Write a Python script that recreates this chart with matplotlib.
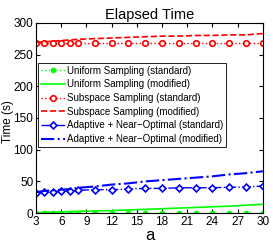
import matplotlib
matplotlib.use('Agg')
import matplotlib.pyplot as plt

a = [3, 4, 5, 6, 7, 8, 10, 12, 14, 16, 18, 20, 22, 24, 26, 28, 30]

uni_std = [1, 1, 1, 1, 1, 1, 1, 1, 1, 1, 1, 1, 1, 1, 1, 1, 1]
uni_mod = [0.5, 1, 1.5, 2, 2.5, 3, 3.5, 4, 5, 6, 7, 8, 9, 10, 11, 12.5, 14]
sub_std = [268, 268, 268, 268, 268, 268, 268, 268, 268, 268, 268, 268, 268, 268, 268, 268, 268]
sub_mod = [269, 270, 271, 272, 273, 274, 275, 276, 277, 278, 279, 279, 280, 280, 281, 281, 283]
ada_std = [32, 34, 34, 35, 35, 36, 37, 37, 38, 39, 39, 40, 40, 40, 41, 41, 43]
ada_mod = [33, 35, 36, 37, 38, 40, 42, 45, 47, 50, 52, 54, 56, 58, 61, 63, 66]

plt.rcParams['font.family'] = ['Liberation Sans', 'DejaVu Sans']
fig = plt.figure(figsize=(2.73, 2.45), dpi=100)
ax = fig.add_axes([0.132, 0.13, 0.831, 0.777])

ax.plot(a, uni_std, ':', color='#00ff00', marker='o', markersize=3, lw=1,
        label='Uniform Sampling (standard)')
ax.plot(a, uni_mod, '-', color='#00ff00', lw=1.2, label='Uniform Sampling (modified)')
ax.plot(a, sub_std, ':', color='red', marker='o', markersize=4, mfc='white', mew=1.2, lw=1,
        label='Subspace Sampling (standard)')
ax.plot(a, sub_mod, '--', color='red', lw=1.2, label='Subspace Sampling (modified)')
ax.plot(a, ada_std, '-.', color='blue', marker='D', markersize=3.5, mfc='white', mew=1.2, lw=1,
        label='Adaptive + Near\u2212Optimal (standard)')
ax.plot(a, ada_mod, '-.', color='blue', lw=1.5, label='Adaptive + Near\u2212Optimal (modified)')

ax.set_xlim(3, 30)
ax.set_ylim(0, 300)
ax.set_xticks(range(3, 31, 3))
ax.set_yticks(range(0, 301, 50))
ax.tick_params(direction='in', labelsize=8.5, length=3, top=True, right=True, pad=2)
ax.set_title('Elapsed Time', fontsize=10.5, pad=3)
ax.set_xlabel('a', fontsize=12, labelpad=0)
ax.set_ylabel('Time (s)', fontsize=8.5)
ax.yaxis.set_label_coords(-0.095, 0.48)
leg = ax.legend(loc='upper left', bbox_to_anchor=(0.0, 0.8), fontsize=7, fancybox=False,
                edgecolor='black', framealpha=1, borderaxespad=0.2, handlelength=2.5,
                labelspacing=0.38, borderpad=0.3, handletextpad=0.2)
leg.get_frame().set_linewidth(0.6)

fig.savefig('out.png', dpi=100)
